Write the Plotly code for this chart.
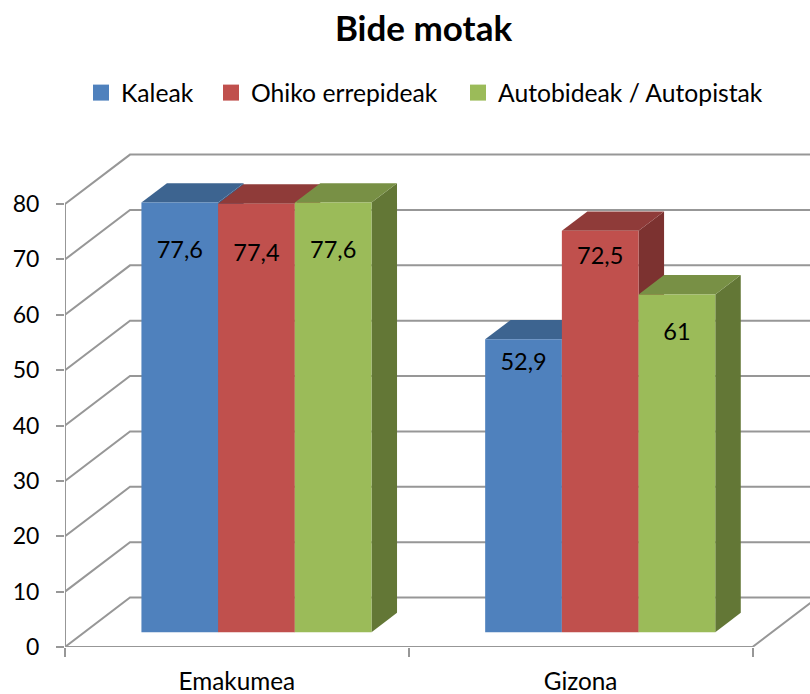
import plotly.graph_objects as go

categories = ["Emakumea", "Gizona"]
series_names = ["Kaleak", "Ohiko errepideak", "Autobideak / Autopistak"]
kaleak = [77.6, 52.9]
ohiko = [77.4, 72.5]
autobideak = [77.6, 61]
tick_values = [0, 10, 20, 30, 40, 50, 60, 70, 80]

series_values = [kaleak, ohiko, autobideak]
front_colors = ["#4F81BD", "#C0504D", "#9BBB59"]
top_colors = ["#3D6490", "#8F3B39", "#789045"]
side_colors = ["#3A5E88", "#7C3230", "#637736"]
label_drops_px = [[50, 24.5], [51.5, 27], [50, 39.5]]

FONT = "Lato"
GRID = "#979797"
PX_X, PX_Y = 343.75, 5.54          # pixels per category / per value unit
AX_LEFT, AX_BOTTOM = 65, 647.3
W, H = 810, 694
x_max = (W - AX_LEFT) / PX_X
y_max = (AX_BOTTOM - 150) / PX_Y
wall_dx, wall_dy = 65 / PX_X, 49.5 / PX_Y
bar_dx, bar_dy = 25.5 / PX_X, 19.4 / PX_Y
base = 14.8 / PX_Y
shift = 19.6 / PX_X
bar_w = 76.7 / PX_X


def bar_left(i, s):
    return i + 0.5 + shift + (s - 1.5) * bar_w


fig = go.Figure()

# back wall and floor lines
for v in tick_values:
    fig.add_trace(go.Scatter(x=[0, wall_dx, x_max], y=[v, v + wall_dy, v + wall_dy], mode="lines",
                             line=dict(color=GRID, width=2), showlegend=False, hoverinfo="skip"))
fig.add_trace(go.Scatter(x=[0, 0], y=[0, tick_values[-1]], mode="lines",
                         line=dict(color=GRID, width=2), showlegend=False, hoverinfo="skip"))
fig.add_trace(go.Scatter(x=[0, 2, 2 + wall_dx], y=[0, 0, wall_dy], mode="lines",
                         line=dict(color=GRID, width=2), showlegend=False, hoverinfo="skip"))

# side and top faces
for i in range(len(categories)):
    for s, vals in enumerate(series_values):
        l = bar_left(i, s)
        r = l + bar_w
        t = base + vals[i]
        fig.add_trace(go.Scatter(
            x=[r, r + bar_dx, r + bar_dx, r, r], y=[base, base + bar_dy, t + bar_dy, t, base],
            mode="lines", fill="toself", fillcolor=side_colors[s], line=dict(width=0),
            showlegend=False, hoverinfo="skip"))
        fig.add_trace(go.Scatter(
            x=[l, l + bar_dx, r + bar_dx, r, l], y=[t, t + bar_dy, t + bar_dy, t, t],
            mode="lines", fill="toself", fillcolor=top_colors[s], line=dict(width=0),
            showlegend=False, hoverinfo="skip"))

# front faces on an overlay so they cover all depth faces
for s, vals in enumerate(series_values):
    fig.add_trace(go.Bar(
        x=[bar_left(i, s) + bar_w / 2 for i in range(len(categories))],
        y=vals, base=base, width=bar_w, marker=dict(color=front_colors[s], line=dict(width=0)),
        xaxis="x2", yaxis="y2", showlegend=False, name=series_names[s]))

# data labels
for s, vals in enumerate(series_values):
    fig.add_trace(go.Scatter(
        x=[bar_left(i, s) + bar_w / 2 for i in range(len(categories))],
        y=[base + vals[i] - label_drops_px[s][i] / PX_Y for i in range(len(categories))],
        mode="text", text=[str(v).replace(".", ",") for v in vals],
        textposition="middle center", textfont=dict(family=FONT, size=23.5, color="#000000"),
        xaxis="x2", yaxis="y2", showlegend=False, hoverinfo="skip"))

# legend entries
legend_names = ["legend", "legend2", "legend3"]
legend_left_px = [89, 219, 466]
for s, name in enumerate(series_names):
    fig.add_trace(go.Scatter(x=[None], y=[None], mode="markers", name=name, legend=legend_names[s],
                             marker=dict(symbol="square", size=16, color=front_colors[s])))


def legend_cfg(px):
    return dict(x=(px - AX_LEFT) / (W - AX_LEFT), y=(AX_BOTTOM - 70) / (AX_BOTTOM - 150),
                xanchor="left", yanchor="top", orientation="h", bgcolor="rgba(0,0,0,0)",
                indentation=-8,
                font=dict(family=FONT, size=24.7, color="#000000"))


axis_range_x = [0, x_max]
axis_range_y = [0, y_max]
fig.update_layout(
    width=W, height=H, autosize=False,
    margin=dict(l=AX_LEFT, r=0, t=150, b=H - AX_BOTTOM, pad=0),
    paper_bgcolor="#FFFFFF", plot_bgcolor="#FFFFFF",
    barmode="overlay",
    title=dict(text="<b>Bide motak</b>", x=423.5 / W, xanchor="center", xref="container",
               y=1 - 29 / H, yanchor="middle", font=dict(family=FONT, size=35, color="#000000")),
    legend=legend_cfg(legend_left_px[0]),
    legend2=legend_cfg(legend_left_px[1]),
    legend3=legend_cfg(legend_left_px[2]),
    xaxis=dict(range=axis_range_x, tickmode="array", tickvals=[0.5, 1.5], ticktext=categories,
               ticks="", showgrid=False, zeroline=False, showline=False, ticklabelstandoff=18,
               tickfont=dict(family=FONT, size=24.3, color="#000000"),
               minor=dict(tickmode="array", tickvals=[0, 1, 2], ticks="outside", ticklen=9,
                          tickwidth=2, tickcolor=GRID, showgrid=False)),
    yaxis=dict(range=axis_range_y, tickmode="array", tickvals=tick_values, ticks="outside", ticklen=8,
               tickwidth=2, tickcolor=GRID, showgrid=False, zeroline=False, showline=False,
               ticklabelstandoff=12, tickfont=dict(family=FONT, size=23, color="#000000")),
    xaxis2=dict(range=axis_range_x, overlaying="x", visible=False),
    yaxis2=dict(range=axis_range_y, overlaying="y", visible=False),
)
fig.write_html("out.html", config={"displayModeBar": False},
               post_script="document.body.style.margin='0';")
